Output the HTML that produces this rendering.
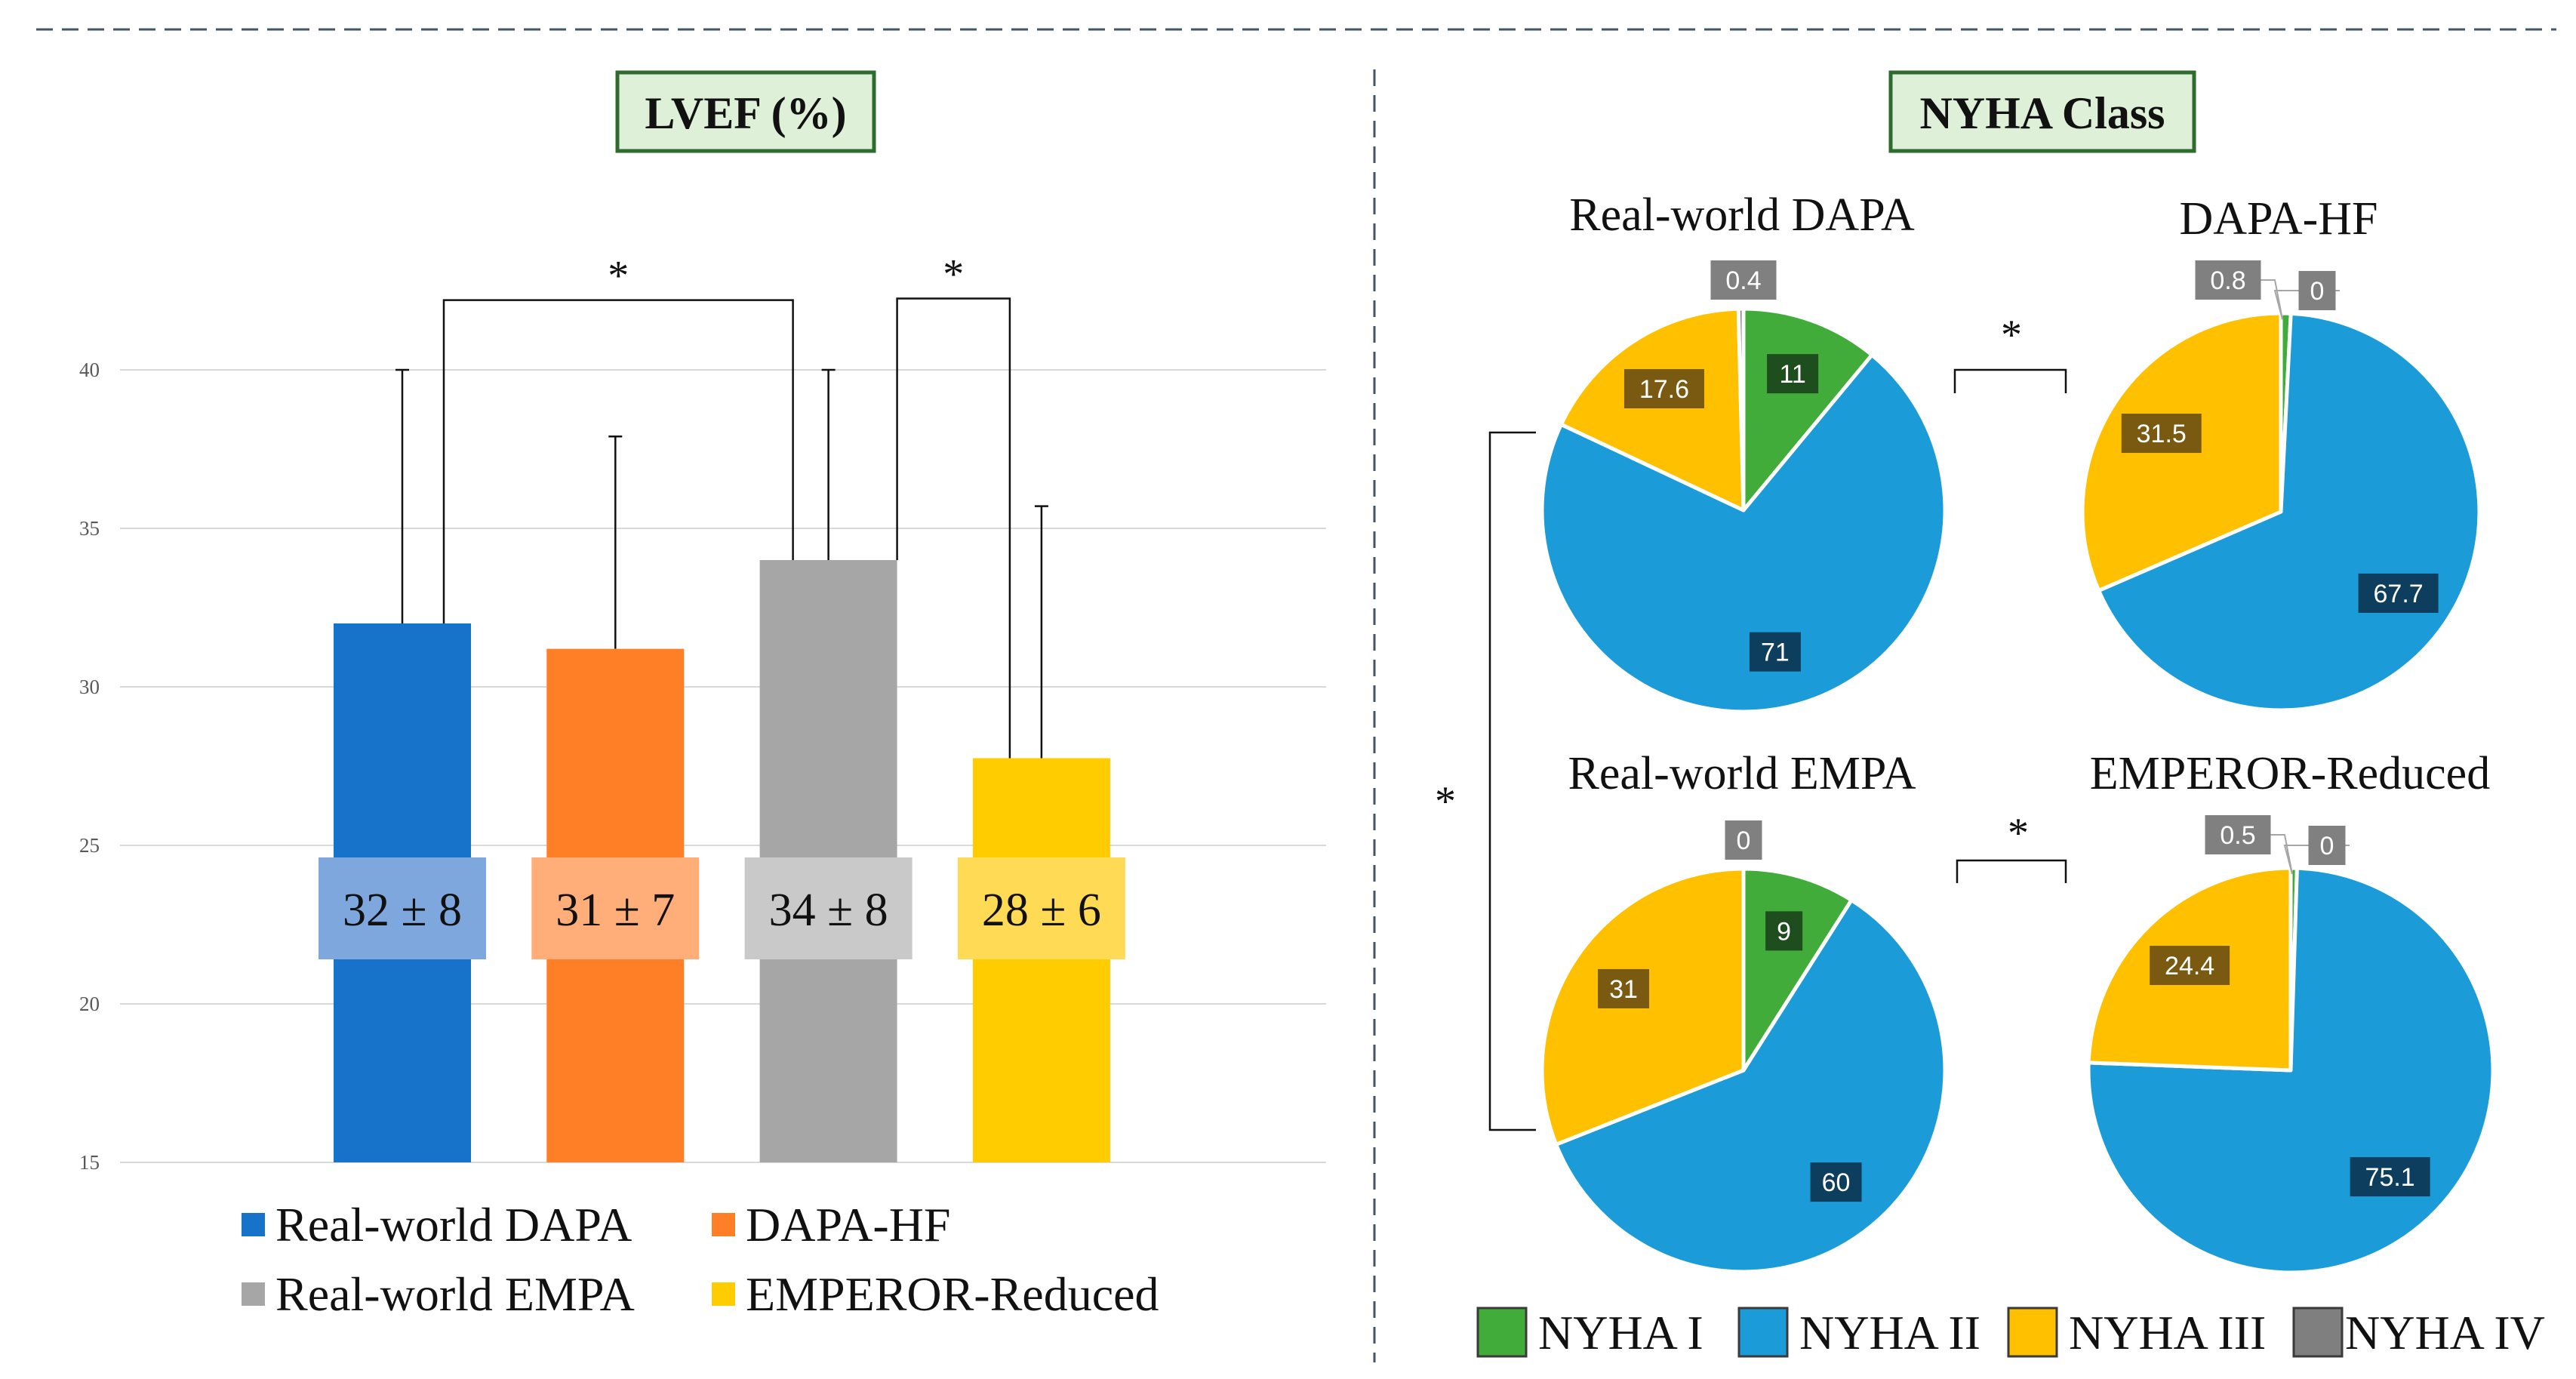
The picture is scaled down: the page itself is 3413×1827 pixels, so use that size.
<!DOCTYPE html>
<html><head><meta charset="utf-8"><style>
html,body{margin:0;padding:0;background:#fff;}
svg{display:block;}
text{font-family:"Liberation Serif",serif;}
.sans{font-family:"Liberation Sans","DejaVu Sans",sans-serif;}
</style></head><body>
<svg id="fig" width="3413" height="1827" viewBox="0 0 3413 1827" xmlns="http://www.w3.org/2000/svg">
<line x1="48" y1="39" x2="3387" y2="39" stroke="#44546a" stroke-width="3" stroke-dasharray="22,12"/>
<line x1="1821" y1="92" x2="1821" y2="1805" stroke="#44546a" stroke-width="3" stroke-dasharray="22,12"/>
<g>
<rect x="818" y="96" width="340" height="104" fill="#dff0d8" stroke="#2e6b2e" stroke-width="5"/>
<text x="988" y="170" text-anchor="middle" font-size="60" font-weight="bold" fill="#111">LVEF (%)</text>
</g>
<g transform="translate(-11,0)">
<g>
<rect x="2516" y="96" width="402" height="104" fill="#dff0d8" stroke="#2e6b2e" stroke-width="5"/>
<text x="2717" y="170" text-anchor="middle" font-size="60" font-weight="bold" fill="#111">NYHA Class</text>
</g>
<g id="pies"></g>
</g>
<g id="bar-chart"></g>
</svg>
<script>
const NS="http://www.w3.org/2000/svg";
function mk(parent,tag,attrs,txt){const e=document.createElementNS(NS,tag);for(const k in attrs)e.setAttribute(k,attrs[k]);if(txt!==undefined)e.textContent=txt;parent.appendChild(e);return e;}

// ---- Bar chart data ----
const barCategories=["Real-world DAPA","DAPA-HF","Real-world EMPA","EMPEROR-Reduced"];
const barMeans=[32.0,31.2,34.0,27.75];
const errorUpper=[40,37.9,40,35.7];
const barLabels=["32 ± 8","31 ± 7","34 ± 8","28 ± 6"];
const yTicks=[15,20,25,30,35,40];
const bracketPairs=[[0,2],[2,3]];
const bracketLevels=[42.2,42.25];

const barColors=["#1772c9","#fe7f26","#a6a6a6","#ffcc00"];
const boxFill=["#7ea8dd","#ffae7a","#c9c9c9","#ffdb55"];
const yMin=15,yMax=40,yTop=490,yBot=1540;
const y=v=>yBot-(v-yMin)/(yMax-yMin)*(yBot-yTop);
const xCenter=i=>533+i*282.3;
const barW=182;
const bc=document.getElementById('bar-chart');
yTicks.forEach(t=>{
  const l=mk(bc,'line',{x1:159,x2:1757,y1:y(t),y2:y(t),stroke:'#d9d9d9','stroke-width':2});
  
  
  const tx=mk(bc,'text',{x:132,y:y(t)+9,'text-anchor':'end','font-size':27,fill:'#595959'},t);
  
  
});
barMeans.forEach((v,i)=>{
  const cx=xCenter(i);
  const ln=mk(bc,'line',{x1:cx,x2:cx,y1:y(errorUpper[i]),y2:y(v),stroke:'#111','stroke-width':2.5});
  
  
  mk(bc,'line',{x1:cx-9,x2:cx+9,y1:y(errorUpper[i]),y2:y(errorUpper[i]),stroke:'#111','stroke-width':2.5});
  const r=mk(bc,'rect',{x:cx-barW/2,y:y(v),width:barW,height:yBot-y(v),fill:barColors[i]});
  
  
  const lb=mk(bc,'rect',{x:cx-111,y:1136,width:222,height:135,fill:boxFill[i]});
  
  
  const lt=mk(bc,'text',{x:cx,y:1226,'text-anchor':'middle','font-size':62,fill:'#111'},barLabels[i]);
  
  
});
bracketPairs.forEach((p,k)=>{
  const a=p[0],b=p[1];
  const xa= k===0 ? xCenter(a)+55 : xCenter(a)+barW/2;
  const xb= k===0 ? xCenter(b)-47 : xCenter(b)-42;
  const ly=y(bracketLevels[k]);
  const pth=mk(bc,'path',{d:`M${xa},${y(barMeans[a])} L${xa},${ly} L${xb},${ly} L${xb},${y(barMeans[b])}`,fill:'none',stroke:'#111','stroke-width':2.5});
  
  
  const st=mk(bc,'text',{x:(xa+xb)/2,y:ly-14,'text-anchor':'middle','font-size':56,fill:'#111'},'*');
  
  
});
const legPos=[[320,1622],[943,1622],[320,1714],[943,1714]];
barCategories.forEach((c,i)=>{
  const g=mk(bc,'g',{});
  
  
  mk(g,'rect',{x:legPos[i][0],y:legPos[i][1]-15,width:31,height:31,fill:barColors[i]});
  mk(g,'text',{x:legPos[i][0]+45,y:legPos[i][1]+22,'font-size':64,fill:'#111'},c);
});

// ---- Pie data ----
const pieTitles=["Real-world DAPA","DAPA-HF","Real-world EMPA","EMPEROR-Reduced"];
const nyhaClasses=["NYHA I","NYHA II","NYHA III","NYHA IV"];
const pieRealDapa=[11,71,17.6,0.4];
const pieDapaHf=[0.8,67.7,31.5,0];
const pieRealEmpa=[9,60,31,0];
const pieEmperor=[0.5,75.1,24.4,0];

const pieValues=[pieRealDapa,pieDapaHf,pieRealEmpa,pieEmperor];
const pieColors=["#42ac3a","#1b9bd7","#ffc000","#7f7f7f"];
const boxColors=["#1e4d1e","#0e3e5e","#7a5a10","#808080"];
const pieGeom=[[2321,676,267],[3033,678,263],[2321,1418,267],[3046,1418,268]];
const titlePos=[[2319,305],[3030,310],[2319,1045],[3045,1045]];
const pc=document.getElementById('pies');
pieValues.forEach((vals,p)=>{
  const [cx,cy,r]=pieGeom[p];
  const g=mk(pc,'g',{});
  
  
  const t=mk(g,'text',{x:titlePos[p][0],y:titlePos[p][1],'text-anchor':'middle','font-size':62,fill:'#111'},pieTitles[p]);
  
  
  const total=vals.reduce((a,b)=>a+b,0);
  let ang=-Math.PI/2;
  const mids=[];
  vals.forEach((v,i)=>{
    const a0=ang,a1=ang+v/total*2*Math.PI;ang=a1;mids.push([a0,a1]);
    if(v<=0)return;
    const large=(a1-a0)>Math.PI?1:0;
    const d=`M${cx},${cy} L${cx+r*Math.cos(a0)},${cy+r*Math.sin(a0)} A${r},${r} 0 ${large} 1 ${cx+r*Math.cos(a1)},${cy+r*Math.sin(a1)} Z`;
    const s=mk(g,'path',{d:d,fill:pieColors[i],stroke:'#fff','stroke-width':5,'stroke-linejoin':'round'});
    
    
  });
  vals.forEach((v,i)=>{
    const [a0,a1]=mids[i];const am=(a0+a1)/2;
    const small=(a1-a0)<0.15;
    let lx,ly;
    if(!small){lx=cx+r*0.72*Math.cos(am);ly=cy+r*0.72*Math.sin(am);}
    else{
      if(i===3){lx=cx+(p%2?48:0);ly=cy-r-(p%2?30:38);}
      else{lx=cx-(p%2?70:6);ly=cy-r-(p%2?44:38);}
      if(p%2){mk(g,'polyline',{points:`${lx+30},${ly} ${cx-8},${ly} ${cx+2},${cy-r+8}`,fill:'none',stroke:'#a6a6a6','stroke-width':2});}
    }
    const txt=String(v);
    const w=txt.length*19+30;
    const bg=small?boxColors[3]:boxColors[i];
    const b=mk(g,'rect',{x:lx-w/2,y:ly-26,width:w,height:52,fill:bg});
    
    
    const tt=mk(g,'text',{x:lx,y:ly+12,'text-anchor':'middle','font-size':34,fill:'#fff',class:'sans'},txt);
    
    
  });
});
const br=[[2601,2748,490,521,2676,462],[2604,2748,1140,1170,2685,1122]];
br.forEach((b,k)=>{
  const pth=mk(pc,'path',{d:`M${b[0]},${b[3]} L${b[0]},${b[2]} L${b[1]},${b[2]} L${b[1]},${b[3]}`,fill:'none',stroke:'#111','stroke-width':2.5});
  
  
  const s=mk(pc,'text',{x:b[4],y:b[5],'text-anchor':'middle','font-size':56,fill:'#111'},'*');
  
  
});
const vb=mk(pc,'path',{d:'M2046,573 L1985,573 L1985,1497 L2046,1497',fill:'none',stroke:'#111','stroke-width':2.5});


const vs=mk(pc,'text',{x:1926,y:1080,'text-anchor':'middle','font-size':56,fill:'#111'},'*');


const pLeg=[1969,2315,2672,3050];
nyhaClasses.forEach((c,i)=>{
  const g=mk(pc,'g',{});
  
  
  mk(g,'rect',{x:pLeg[i],y:1733,width:64,height:64,fill:pieColors[i],stroke:'#3a3a3a','stroke-width':3});
  mk(g,'text',{x:pLeg[i]+(i===3?68:80),y:1787,'font-size':64,fill:'#111'},c);
});
</script>
</body></html>
